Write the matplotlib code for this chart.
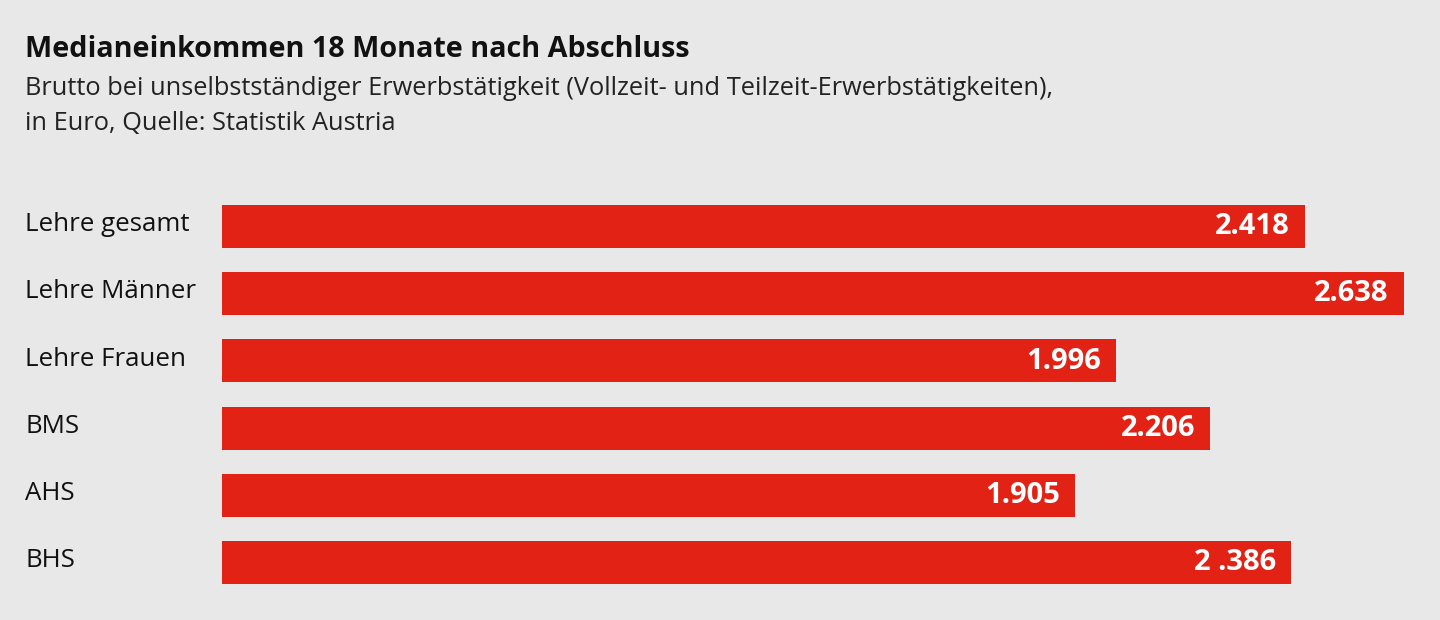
import matplotlib
matplotlib.use("Agg")
import matplotlib.pyplot as plt

# Data
categories = ["Lehre gesamt", "Lehre Männer", "Lehre Frauen", "BMS", "AHS", "BHS"]
income = [2418, 2638, 1996, 2206, 1905, 2386]
value_labels = ["2.418", "2.638", "1.996", "2.206", "1.905", "2 .386"]

title = "Medianeinkommen 18 Monate nach Abschluss"
subtitle_lines = [
    "Brutto bei unselbstständiger Erwerbstätigkeit (Vollzeit- und Teilzeit-Erwerbstätigkeiten),",
    "in Euro, Quelle: Statistik Austria",
]

BG = "#e8e8e8"
RED = "#e32216"
W, H = 1440, 620

plt.rcParams["font.family"] = ["Open Sans", "DejaVu Sans"]

fig = plt.figure(figsize=(W / 100, H / 100), dpi=100, facecolor=BG)
ax = fig.add_axes([222 / W, 1 - 596 / H, (1420 - 222) / W, 403 / H])
ax.set_facecolor(BG)

y = list(range(len(categories)))
ax.barh(y, income, height=0.64, color=RED)
ax.set_xlim(0, 2674)
ax.set_ylim(len(categories) - 0.5, -0.5)

# value labels inside the bar ends
for yi, val, lab in zip(y, income, value_labels):
    ax.annotate(lab, xy=(val, yi), xytext=(-11, -5.5), textcoords="offset points",
                ha="right", va="baseline", color="white", fontsize=21,
                fontweight="bold")

# category labels at the left edge
for yi, cat in zip(y, categories):
    ax.annotate(cat, xy=(0, yi), xycoords=("figure fraction", "data"),
                xytext=(25 * 0.72, -3.3), textcoords="offset points",
                ha="left", va="baseline", fontsize=18.6, color="#111111")

for s in ax.spines.values():
    s.set_visible(False)
ax.set_xticks([])
ax.set_yticks([])

fig.text(25 / W, 1 - 57 / H, title, fontsize=20.7, fontweight="bold",
         ha="left", va="baseline", color="#111111")
for line, base in zip(subtitle_lines, [95, 130]):
    fig.text(25 / W, 1 - base / H, line, fontsize=18.3, ha="left",
             va="baseline", color="#222222")

fig.savefig("out.png", dpi=100, facecolor=BG)
